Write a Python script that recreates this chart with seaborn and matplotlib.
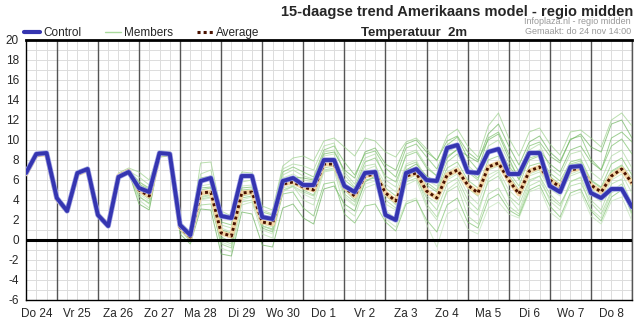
import numpy as np
import pandas as pd
import matplotlib
matplotlib.use("Agg")
import matplotlib.pyplot as plt
import seaborn as sns
from matplotlib.lines import Line2D

# ---------------- data ----------------
day_labels = ["Do 24", "Vr 25", "Za 26", "Zo 27", "Ma 28", "Di 29", "Wo 30", "Do 1",
              "Vr 2", "Za 3", "Zo 4", "Ma 5", "Di 6", "Wo 7", "Do 8"]

control = [6.7, 8.6, 8.7, 4.2, 2.9, 6.7, 7.1, 2.5, 1.4, 6.3, 6.8,
           5.2, 4.8, 8.7, 8.6, 1.5, 0.5, 5.9, 6.2, 2.4, 2.2,
           6.4, 6.4, 2.3, 2.1, 5.9, 6.2, 5.5, 5.5, 8.0, 8.0,
           5.4, 4.8, 6.7, 6.8, 2.5, 2.0, 6.7, 7.1, 6.0, 5.9,
           9.2, 9.5, 6.8, 6.7, 8.8, 9.1, 6.6, 6.6, 8.7, 8.7,
           5.4, 4.8, 7.3, 7.4, 4.7, 4.2, 5.1, 5.1, 3.3]

average = [6.6, 8.5, 8.6, 4.1, 2.9, 6.6, 7.0, 2.5, 1.5, 6.4, 6.9,
           5.0, 4.4, 8.6, 8.6, 1.3, 0.3, 4.7, 4.8, 0.7, 0.4,
           4.7, 4.8, 1.8, 1.6, 5.6, 5.8, 5.3, 5.0, 7.6, 7.6,
           5.3, 4.4, 6.4, 6.6, 4.7, 3.9, 6.4, 6.7, 4.9, 4.2,
           6.5, 7.0, 5.5, 4.7, 7.3, 7.7, 6.0, 4.6, 6.9, 7.3,
           6.0, 5.3, 7.0, 7.2, 5.5, 4.8, 6.4, 7.1, 5.7]

m01 = [6.7, 8.7, 8.8, 4.3, 3.0, 6.9, 7.3, 2.8, 1.7, 6.7, 7.2,
       6.8, 6.0, 8.9, 8.8, 1.8, 0.8, 7.7, 7.8, 2.9, 2.4,
       6.8, 6.7, 3.4, 3.0, 7.4, 8.2, 8.4, 7.9, 9.9, 10.2,
       9.3, 8.4, 10.2, 9.9, 8.8, 8.3, 9.8, 10.2, 9.1, 7.9,
       10.4, 11.1, 9.4, 8.3, 11.4, 12.7, 10.2, 8.4, 10.8, 11.2,
       9.6, 8.5, 10.8, 11.0, 10.2, 9.3, 12.0, 12.7, 11.4]
m02 = [6.5, 8.4, 8.5, 4.0, 2.8, 6.5, 6.9, 2.3, 1.3, 6.2, 6.8,
       4.0, 3.2, 8.4, 8.5, 1.0, 0.0, 4.2, 4.5, -0.8, -1.2,
       3.5, 3.8, 0.6, 0.2, 4.8, 5.4, 4.0, 3.5, 6.8, 7.0,
       3.2, 2.4, 5.2, 5.6, 3.0, 2.1, 5.5, 6.0, 3.3, 2.0,
       5.0, 5.8, 3.4, 2.5, 6.1, 6.8, 4.2, 2.9, 5.8, 6.4,
       3.9, 3.0, 5.9, 6.2, 3.1, 2.2, 4.7, 5.3, 2.4]
m03 = [6.8, 8.6, 8.7, 4.2, 3.1, 6.8, 7.2, 2.7, 1.6, 6.5, 7.0,
       5.8, 5.2, 8.8, 8.7, 1.6, 0.6, 6.2, 6.4, 1.8, 1.5,
       6.2, 6.3, 2.8, 2.5, 6.8, 7.3, 6.8, 6.3, 9.0, 9.4,
       7.8, 6.5, 8.6, 8.9, 7.2, 6.3, 9.2, 9.6, 8.3, 7.1,
       9.5, 10.3, 8.2, 7.0, 10.2, 10.8, 8.6, 6.8, 9.4, 9.8,
       8.4, 7.7, 10.1, 10.4, 8.1, 7.0, 9.4, 10.1, 8.6]
m04 = [6.6, 8.5, 8.6, 4.0, 2.8, 6.5, 6.9, 2.4, 1.4, 6.3, 6.8,
       4.6, 3.9, 8.5, 8.6, 1.2, 0.2, 4.0, 4.2, -0.2, -0.6,
       4.0, 4.3, 1.0, 0.6, 5.0, 5.3, 4.6, 4.1, 6.9, 7.1,
       4.2, 3.4, 5.6, 5.9, 2.1, 1.3, 3.8, 4.2, 1.6, -0.7,
       2.6, 3.2, 1.1, 0.6, 3.2, 3.8, 2.6, 2.2, 4.8, 5.2,
       2.8, 2.0, 4.4, 4.8, 2.4, 1.6, 3.9, 4.3, 1.9]
m05 = [6.5, 8.6, 8.7, 4.1, 2.9, 6.6, 7.0, 2.6, 1.5, 6.4, 6.9,
       5.1, 4.5, 8.6, 8.6, 1.4, 0.3, 5.0, 5.2, 0.9, 0.5,
       5.0, 5.1, 1.9, 1.6, 5.9, 6.2, 5.6, 5.2, 7.8, 8.0,
       5.7, 4.8, 6.6, 7.0, 5.2, 4.4, 6.9, 7.3, 5.5, 4.8,
       7.2, 7.8, 6.0, 5.2, 8.0, 8.4, 6.5, 5.0, 7.4, 7.7,
       6.3, 5.6, 7.5, 7.7, 5.9, 5.2, 6.9, 7.5, 6.1]
m06 = [6.7, 8.5, 8.6, 4.1, 2.9, 6.6, 7.0, 2.5, 1.5, 6.4, 6.9,
       6.3, 5.5, 8.7, 8.6, 1.5, 0.5, 6.6, 7.0, 2.4, 2.1,
       6.5, 6.6, 3.0, 2.6, 7.1, 7.6, 7.4, 7.0, 9.4, 9.7,
       6.5, 5.3, 7.4, 7.6, 4.6, 3.5, 6.0, 6.5, 3.6, 2.3,
       4.8, 5.4, 2.4, 1.6, 4.6, 5.2, 3.4, 2.6, 5.4, 5.9,
       4.2, 3.4, 5.8, 6.3, 4.0, 3.0, 5.6, 6.1, 3.5]
m07 = [6.6, 8.5, 8.6, 4.1, 2.9, 6.6, 7.0, 2.5, 1.5, 6.3, 6.8,
       3.6, 3.0, 8.3, 8.4, 0.6, -0.4, 3.1, 3.0, -1.4, -1.6,
       2.8, 2.6, -0.5, -0.7, 3.2, 3.6, 2.2, 1.6, 5.1, 5.4,
       3.6, 2.9, 5.8, 6.4, 4.4, 3.8, 7.0, 7.6, 6.4, 5.8,
       8.2, 9.1, 8.4, 7.8, 10.6, 11.6, 9.4, 7.5, 9.8, 10.4,
       8.8, 7.9, 10.0, 10.6, 9.3, 8.8, 11.6, 12.0, 10.2]
m08 = [6.7, 8.6, 8.7, 4.2, 3.0, 6.7, 7.1, 2.6, 1.6, 6.5, 7.0,
       5.4, 4.8, 8.6, 8.6, 1.3, 0.2, 5.4, 5.6, 1.2, 0.8,
       5.4, 5.5, 2.1, 1.8, 6.2, 6.6, 6.0, 5.8, 8.4, 8.6,
       4.4, 3.5, 6.0, 6.2, 3.6, 3.0, 6.2, 6.6, 4.4, 3.7,
       6.0, 6.6, 4.6, 3.6, 6.5, 7.0, 5.0, 4.0, 6.4, 6.8,
       5.1, 4.4, 6.6, 7.0, 4.6, 3.8, 6.0, 6.6, 4.7]
m09 = [6.6, 8.5, 8.6, 4.1, 2.9, 6.6, 7.0, 2.5, 1.4, 6.4, 6.9,
       4.3, 3.7, 8.6, 8.7, 1.1, 0.1, 3.5, 3.6, -0.4, -0.8,
       4.4, 4.6, 1.4, 1.1, 5.4, 5.8, 5.0, 4.5, 7.2, 7.4,
       5.0, 4.0, 6.4, 6.8, 4.9, 4.0, 7.4, 7.8, 5.8, 5.0,
       7.8, 8.6, 6.8, 6.0, 8.8, 9.2, 6.8, 5.4, 8.2, 8.5,
       6.4, 5.4, 7.6, 7.9, 5.1, 4.2, 6.4, 7.0, 5.6]
m10 = [6.7, 8.6, 8.6, 4.1, 2.9, 6.6, 7.0, 2.5, 1.5, 6.4, 6.9,
       5.9, 5.0, 8.7, 8.7, 1.7, 0.7, 5.8, 6.0, 1.5, 1.2,
       5.8, 6.0, 2.4, 2.2, 6.5, 7.0, 6.4, 6.1, 8.8, 9.0,
       6.8, 5.6, 8.2, 8.6, 6.0, 5.3, 8.6, 9.0, 7.4, 6.4,
       8.8, 9.4, 7.5, 6.5, 9.4, 10.0, 7.8, 6.3, 9.0, 9.6,
       7.2, 6.4, 8.6, 8.9, 6.8, 6.0, 8.4, 9.0, 7.2]
m11 = [6.5, 8.4, 8.5, 4.0, 2.8, 6.5, 6.9, 2.4, 1.3, 6.3, 6.8,
       4.8, 4.1, 8.5, 8.5, 1.0, -0.1, 4.6, 4.8, 0.3, -0.2,
       4.2, 4.4, 1.2, 0.8, 4.6, 4.8, 3.2, 2.4, 5.6, 5.8,
       2.6, 1.7, 3.4, 3.6, 1.8, 0.9, 3.6, 4.0, 2.0, 0.8,
       3.5, 4.2, 1.8, 1.2, 4.0, 4.6, 3.0, 2.4, 5.0, 5.5,
       3.4, 2.3, 4.7, 5.1, 2.9, 1.9, 4.3, 5.0, 2.7]
m12 = [6.6, 8.5, 8.6, 4.1, 2.9, 6.6, 7.0, 2.5, 1.5, 6.4, 6.9,
       5.0, 4.4, 8.6, 8.6, 1.3, 0.3, 4.4, 4.4, 0.5, 0.2,
       4.6, 4.7, 1.6, 1.3, 5.2, 5.5, 5.2, 5.0, 7.6, 7.8,
       5.4, 4.6, 7.0, 7.4, 5.6, 4.8, 7.6, 8.0, 6.0, 5.4,
       6.8, 7.4, 5.2, 4.4, 7.2, 7.6, 5.6, 4.5, 6.8, 7.2,
       5.6, 5.0, 7.0, 7.2, 5.2, 4.6, 6.8, 7.4, 5.2]
m13 = [6.7, 8.6, 8.7, 4.2, 3.0, 6.7, 7.1, 2.6, 1.6, 6.4, 6.9,
       5.6, 5.0, 8.6, 8.6, 1.5, 0.5, 5.2, 5.3, 1.0, 0.7,
       5.2, 5.3, 2.0, 1.7, 6.0, 6.3, 6.2, 6.0, 8.6, 8.8,
       7.0, 6.2, 8.8, 9.2, 7.6, 7.0, 9.6, 10.0, 8.8, 8.0,
       9.9, 10.4, 8.8, 8.0, 10.0, 10.6, 8.2, 6.0, 8.6, 9.0,
       7.6, 6.8, 9.0, 9.4, 7.8, 7.0, 10.2, 10.8, 9.8]
m14 = [6.6, 8.5, 8.6, 4.1, 2.9, 6.6, 7.0, 2.5, 1.5, 6.4, 6.9,
       4.4, 3.6, 8.5, 8.6, 1.2, 0.2, 4.1, 4.3, 0.0, -0.4,
       3.8, 4.0, 1.4, 1.0, 5.0, 5.4, 4.8, 4.4, 7.0, 7.2,
       4.6, 3.8, 6.0, 6.2, 4.0, 3.2, 5.8, 6.2, 4.2, 3.0,
       5.6, 6.2, 4.0, 3.0, 5.8, 6.4, 4.4, 3.5, 6.0, 6.4,
       4.6, 3.6, 5.4, 5.7, 3.7, 2.6, 4.9, 5.6, 3.4]
m15 = [6.6, 8.5, 8.6, 4.1, 2.9, 6.6, 7.0, 2.5, 1.5, 6.4, 6.9,
       5.3, 4.7, 8.6, 8.6, 1.4, 0.4, 4.8, 4.9, 0.6, 0.3,
       4.9, 4.9, 1.7, 1.5, 5.6, 5.8, 5.4, 5.1, 7.8, 8.0,
       6.0, 5.2, 7.8, 8.2, 6.4, 5.8, 8.4, 8.8, 7.2, 6.4,
       8.4, 9.0, 7.0, 6.2, 8.6, 9.2, 7.4, 6.1, 8.0, 8.4,
       6.7, 5.9, 7.8, 8.1, 6.0, 5.3, 7.6, 8.2, 6.5]
m16 = [6.6, 8.5, 8.6, 4.1, 2.9, 6.6, 7.0, 2.5, 1.5, 6.4, 6.9,
       4.9, 4.2, 8.6, 8.6, 1.1, 0.1, 4.3, 4.6, 0.2, -0.2,
       4.5, 4.6, 1.4, 1.1, 5.4, 5.7, 5.4, 5.2, 7.4, 7.6,
       5.2, 4.4, 6.4, 6.8, 4.4, 3.6, 6.4, 6.8, 4.8, 4.0,
       6.2, 6.8, 5.2, 4.4, 7.0, 7.4, 5.8, 4.6, 6.6, 7.0,
       5.4, 4.8, 6.4, 6.8, 5.0, 4.2, 6.8, 7.4, 5.4]

members = [m01, m02, m03, m04, m05, m06, m07, m08,
           m09, m10, m11, m12, m13, m14, m15, m16]

# ---------------- frames ----------------
n = len(control)
steps = np.arange(n)
df_mem = pd.concat(
    [pd.DataFrame({"step": steps, "temp": m, "member": f"m{k:02d}"})
     for k, m in enumerate(members)], ignore_index=True)
df_ctrl = pd.DataFrame({"step": steps, "temp": control})
df_avg = pd.DataFrame({"step": steps, "temp": average})

# ---------------- figure ----------------
sns.set_style("white")
plt.rcParams["font.family"] = ["Liberation Sans", "DejaVu Sans"]

fig = plt.figure(figsize=(6.37, 3.22), dpi=100)
ax = fig.add_axes([26 / 637, 22 / 322, 606 / 637, 260 / 322])

greens = ["#9cd18c", "#b6dfaa", "#7cc16b", "#c2e4b8", "#8ac97a", "#a8d89b",
          "#6db45e", "#b9e0ae", "#93cd84", "#acd9a0", "#80c470", "#bde2b2",
          "#74ba64", "#a2d595", "#86c776", "#b0dca4"]
sns.lineplot(data=df_mem, x="step", y="temp", hue="member", units="member",
             estimator=None, palette=greens, linewidth=0.7, alpha=0.7,
             legend=False, ax=ax, zorder=3)

sns.lineplot(data=df_avg, x="step", y="temp", color="#f3d6a6", linewidth=3.4,
             ax=ax, zorder=4, legend=False)
sns.lineplot(data=df_avg, x="step", y="temp", color="#4a1200", linewidth=2.1,
             ax=ax, zorder=5, legend=False)
ax.lines[-1].set_linestyle((0, (1.0, 1.0)))

sns.lineplot(data=df_ctrl, x="step", y="temp", color="#9fa3e6", linewidth=3.8,
             ax=ax, zorder=6, legend=False)
sns.lineplot(data=df_ctrl, x="step", y="temp", color="#3535b0", linewidth=2.8,
             ax=ax, zorder=6, legend=False)

# ---------------- axes styling ----------------
ax.set_xlim(0, n - 1)
ax.set_ylim(-6, 20)
ax.set_xlabel("")
ax.set_ylabel("")

for v in range(-6, 21):
    ax.axhline(v, color="#dcdcdc", linewidth=0.7, zorder=1)
for s in steps:
    ax.axvline(s, color="#dcdcdc", linewidth=0.7, zorder=1)
day_bounds = steps[3::4]
for s in day_bounds:
    ax.axvline(s, color="#555555", linewidth=1.0, zorder=2)
ax.axhline(0, color="black", linewidth=2.2, zorder=7)

ax.set_yticks(range(-6, 21, 2))
ax.set_yticklabels([str(v) for v in range(-6, 21, 2)], fontsize=8.5)
ax.set_xticks(steps[1::4])
ax.set_xticklabels(day_labels, fontsize=8.5)
ax.set_xticks(steps, minor=True)
ax.tick_params(axis="x", which="major", length=0, pad=6)
ax.tick_params(axis="x", which="minor", length=4, width=0.8, color="#333333")
ax.tick_params(axis="y", length=3, width=0.8, pad=2)

for side in ["left", "bottom"]:
    ax.spines[side].set_color("black")
    ax.spines[side].set_linewidth(1.0)
ax.spines["top"].set_color("black")
ax.spines["top"].set_linewidth(2.0)
ax.spines["right"].set_color("#555555")
ax.spines["right"].set_linewidth(1.0)

# legend
handles = [Line2D([], [], color="#3535b0", linewidth=3.0),
           Line2D([], [], color="#a9d99c", linewidth=1.0),
           Line2D([], [], color="#4a1200", linewidth=2.2, linestyle=(0, (1, 1)))]
leg = ax.legend(handles, ["Control", "Members", "Average"], ncol=3,
                loc="lower left", bbox_to_anchor=(-0.004, 1.002), frameon=False,
                fontsize=8.5, handlelength=1.35, handletextpad=0.3,
                columnspacing=2.0, borderaxespad=0.0, borderpad=0.0)

# texts
fig.text(633 / 637, 1 - 12 / 322, "15-daagse trend Amerikaans model - regio midden",
         ha="right", va="center", fontsize=10.5, fontweight="bold")
fig.text(414 / 637, 1 - 33 / 322, "Temperatuur  2m", ha="center", va="center",
         fontsize=9.5, fontweight="bold")
fig.text(631 / 637, 1 - 22 / 322, "Infoplaza.nl - regio midden", ha="right",
         va="center", fontsize=6.5, color="#999999")
fig.text(631 / 637, 1 - 32 / 322, "Gemaakt: do 24 nov 14:00", ha="right",
         va="center", fontsize=6.5, color="#999999")

fig.savefig("out.png", dpi=100, facecolor="white")
